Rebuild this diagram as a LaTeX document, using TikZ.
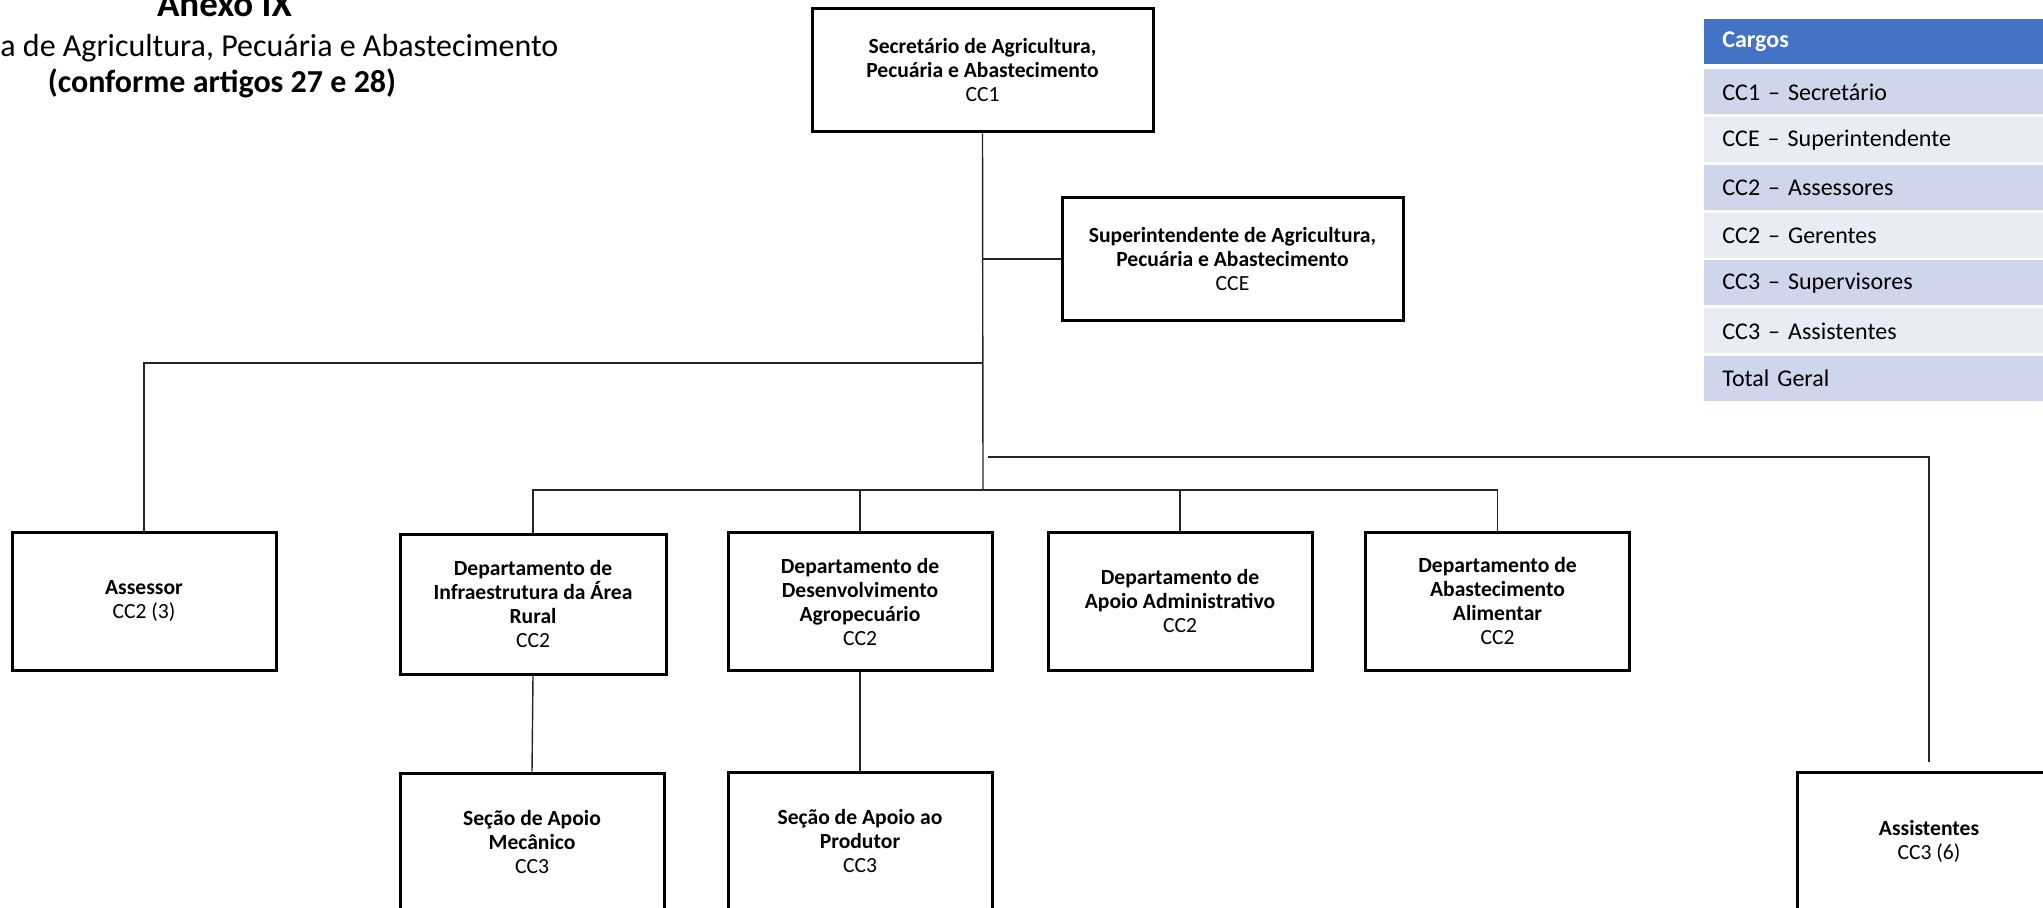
\documentclass[tikz,border=0pt]{standalone}
\usepackage{fontspec}
\setmainfont{Carlito}
\definecolor{hdrblue}{HTML}{4472C4}
\definecolor{rowdark}{HTML}{CFD5EA}
\definecolor{rowlight}{HTML}{E9EBF5}
\begin{document}
\begin{tikzpicture}[x=0.5pt,y=-0.5pt,
  box/.style={draw=black, line width=1.5pt, align=center, inner sep=0pt,
    font=\fontsize{10.8}{12}\selectfont},
  stdbox/.style={box, minimum width=132pt, minimum height=69pt},
  topbox/.style={box, minimum width=170.5pt, minimum height=61.5pt},
  conn/.style={draw=black!85, line width=0.7pt},
  rowbox/.style={anchor=north west, text width=160pt, inner xsep=9pt, inner ysep=0pt,
    minimum height=22.5pt, align=left, font=\fontsize{12}{14}\selectfont},
  titletext/.style={font=\fontsize{16}{17.5}\selectfont}
]
\clip (0,0) rectangle (2043,908);
\useasboundingbox (0,0) rectangle (2043,908);

% title
\node[font=\bfseries\fontsize{18.5}{20}\selectfont, anchor=base] (t1) at (224.5,17) {Anexo IX};
\node[titletext, anchor=base west, inner sep=0pt] (t2) at (0,57) {a de Agricultura, Pecuária e Abastecimento};
\node[font=\bfseries\fontsize{16}{17.5}\selectfont, anchor=base] (t3) at (222,93) {(conforme artigos 27 e 28)};

% boxes
\node[topbox] (sec) at (982.5,70.5) {\textbf{Secretário de Agricultura,}\\\textbf{Pecuária e Abastecimento}\\CC1};
\node[topbox] (sup) at (1232.5,259) {\textbf{Superintendente de Agricultura,}\\\textbf{Pecuária e Abastecimento}\\CCE};
\node[stdbox] (ass) at (144,601) {\textbf{Assessor}\\CC2 (3)};
\node[stdbox, minimum height=70pt, minimum width=133pt] (dinf) at (533,604) {\textbf{Departamento de}\\\textbf{Infraestrutura da Área}\\\textbf{Rural}\\CC2};
\node[stdbox] (ddes) at (860,601.5) {\textbf{Departamento de}\\\textbf{Desenvolvimento}\\\textbf{Agropecuário}\\CC2};
\node[stdbox] (dadm) at (1180,601) {\textbf{Departamento de}\\\textbf{Apoio Administrativo}\\CC2};
\node[stdbox] (dabs) at (1497.5,601) {\textbf{Departamento de}\\\textbf{Abastecimento}\\\textbf{Alimentar}\\CC2};
\node[stdbox] (smec) at (532,842) {\textbf{Seção de Apoio}\\\textbf{Mecânico}\\CC3};
\node[stdbox] (sprod) at (860,841) {\textbf{Seção de Apoio ao}\\\textbf{Produtor}\\CC3};
\node[stdbox] (asst) at (1929,841) {\textbf{Assistentes}\\CC3 (6)};

% connectors
\coordinate (j1) at (983,259);
\coordinate (j2) at (983,363);
\coordinate (j3) at (983,490);
\coordinate (k) at (988,457);
\draw[conn] (sec.south) -- (j3);
\draw[conn] (j1) -- (sup.west);
\draw[conn] (j2) -| (ass.north);
\draw[conn] (dinf.north) |- (j3);
\draw[conn] (j3) -| (dabs.north);
\draw[conn] (ddes.north) -- (ddes.north |- j3);
\draw[conn] (dadm.north) -- (dadm.north |- j3);
\draw[conn] (dinf.south) -- (smec.north);
\draw[conn] (ddes.south) -- (sprod.north);
\draw[conn] (k) -| ([yshift=4.5pt]asst.north);

% table
\node[rowbox, fill=hdrblue, text=white, font=\bfseries\fontsize{12}{14}\selectfont] (h) at (1704,19) {Cargos};
\node[rowbox, fill=rowdark] (r1) at (1704,69) {CC1 – Secretário};
\node[rowbox, fill=rowlight] (r2) at (1704,117) {CCE – Superintendente};
\node[rowbox, fill=rowdark] (r3) at (1704,165) {CC2 – Assessores};
\node[rowbox, fill=rowlight] (r4) at (1704,212.5) {CC2 – Gerentes};
\node[rowbox, fill=rowdark] (r5) at (1704,260) {CC3 – Supervisores};
\node[rowbox, fill=rowlight] (r6) at (1704,308) {CC3 – Assistentes};
\node[rowbox, fill=rowdark] (r7) at (1704,355.5) {Total Geral};
\end{tikzpicture}
\end{document}
